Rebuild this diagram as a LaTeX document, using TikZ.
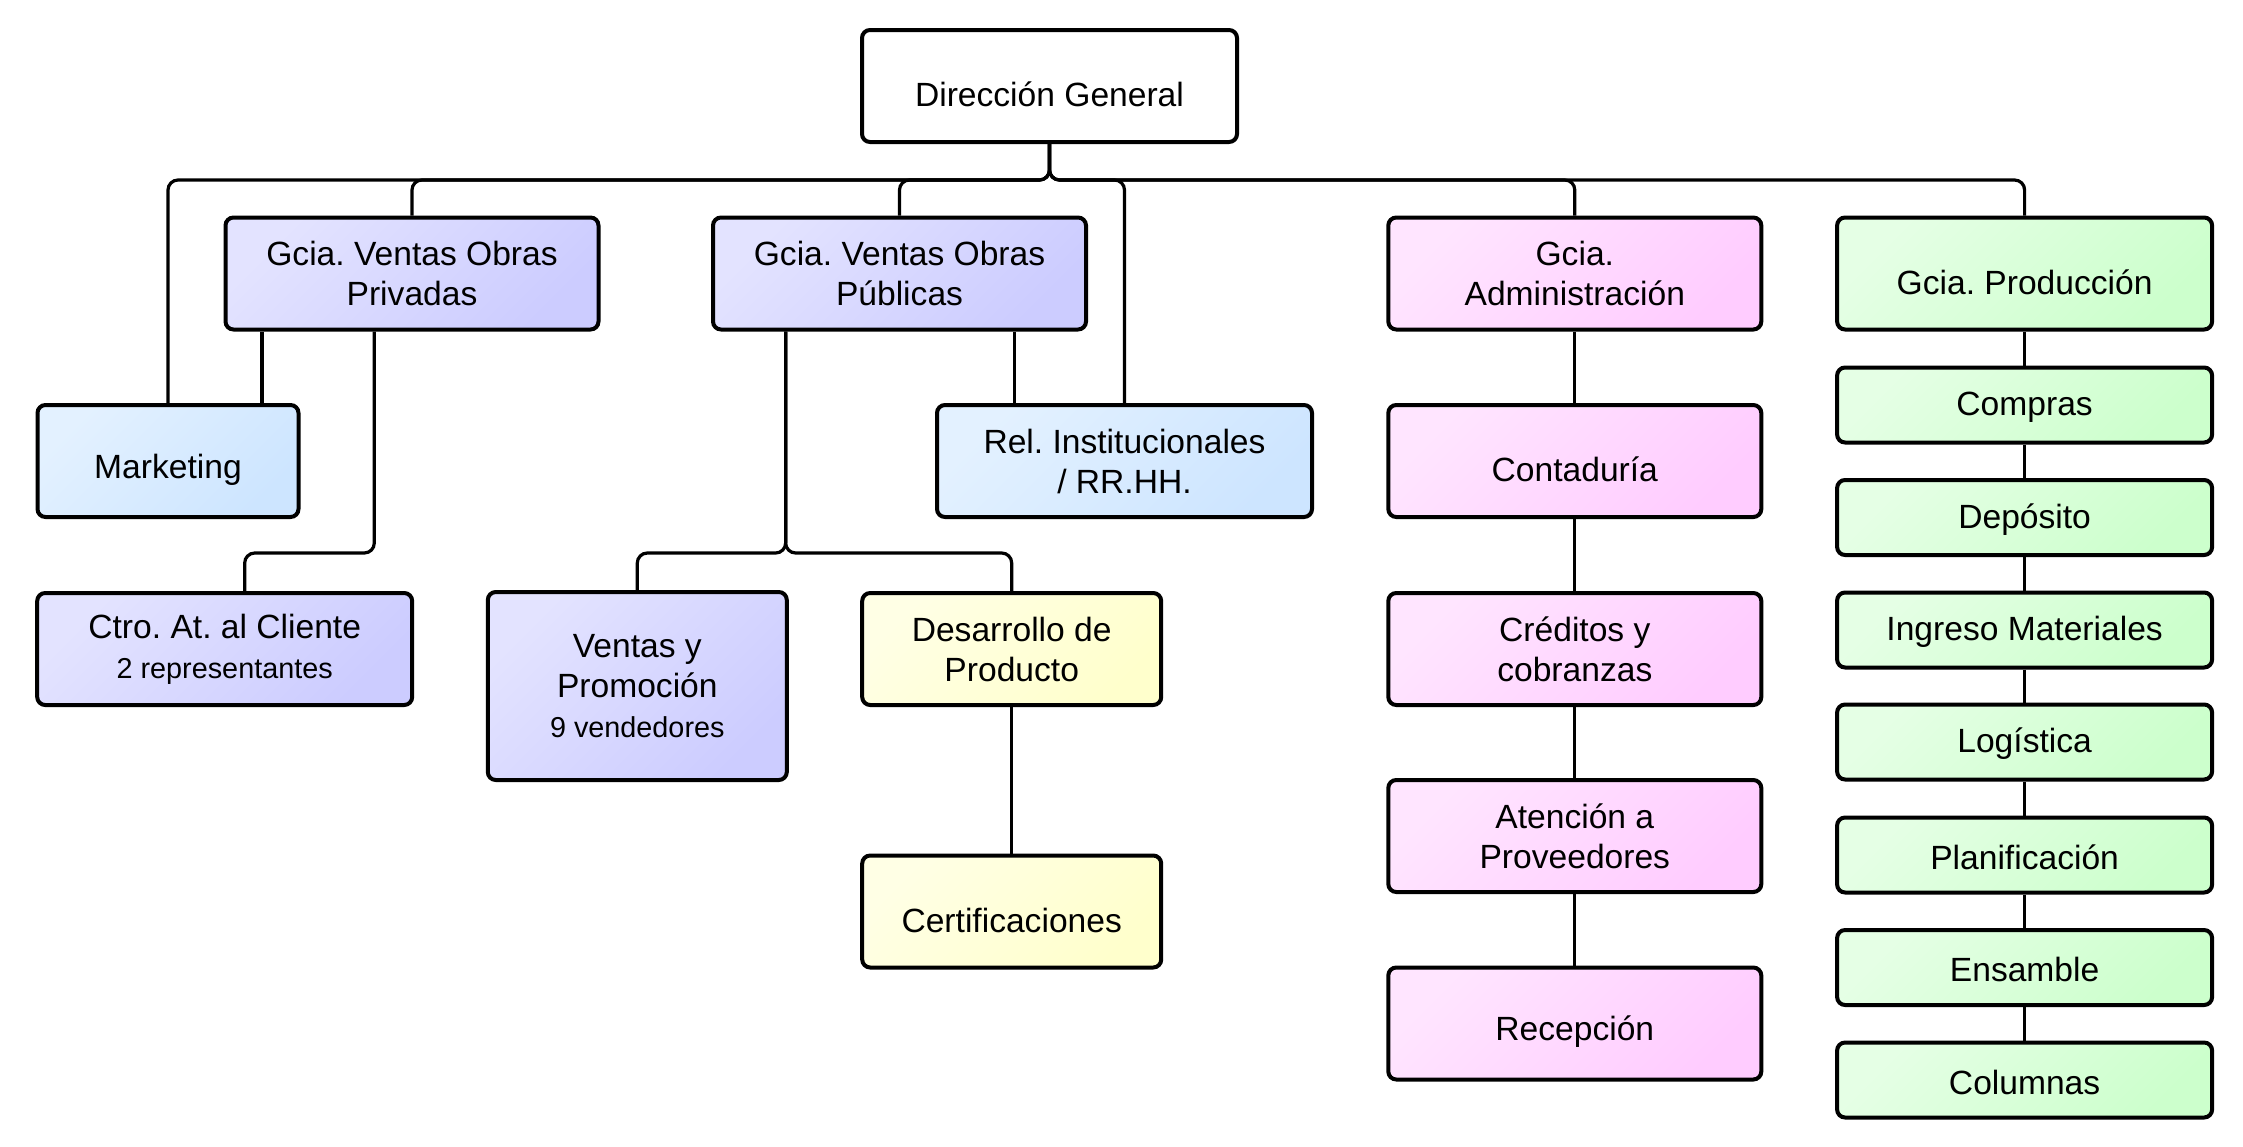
\documentclass[tikz,border=0pt]{standalone}
\usepackage{fontspec}
\setmainfont{Liberation Sans}
\usetikzlibrary{calc}
\frenchspacing
\definecolor{lavA}{HTML}{E3E3FF}\definecolor{lavB}{HTML}{CCCCFF}
\definecolor{bluA}{HTML}{E3F1FF}\definecolor{bluB}{HTML}{CDE5FF}
\definecolor{pnkA}{HTML}{FFE5FF}\definecolor{pnkB}{HTML}{FFCCFF}
\definecolor{yelA}{HTML}{FFFFE5}\definecolor{yelB}{HTML}{FFFFCC}
\definecolor{grnA}{HTML}{E5FFE5}\definecolor{grnB}{HTML}{CCFFCC}
\newcommand{\sm}[1]{{\fontsize{14.4}{20}\selectfont #1}}
\newcommand{\lowtext}[1]{\raisebox{-4.3pt}[\height][\depth]{#1}}
\newcommand{\lowgrn}[1]{\raisebox{-1pt}[\height][\depth]{#1}}
\tikzset{
  box/.style={draw=black, line width=2pt, rounded corners=4pt, align=center,
    inner sep=0pt, font=\fontsize{16.8}{20}\selectfont},
  wbox/.style={box, minimum width=187.5pt, minimum height=56pt},
  mbox/.style={box, minimum width=186.5pt, minimum height=56pt},
  nbox/.style={box, minimum width=149.5pt, minimum height=56pt},
  lav/.style={top color=lavA, bottom color=lavB, shading angle=45},
  blu/.style={top color=bluA, bottom color=bluB, shading angle=45},
  pnk/.style={top color=pnkA, bottom color=pnkB, shading angle=45},
  yel/.style={top color=yelA, bottom color=yelB, shading angle=45},
  grn/.style={top color=grnA, bottom color=grnB, shading angle=45},
  gbox/.style={box, grn, minimum width=187.5pt, minimum height=37.5pt},
  conn/.style={line width=1.6pt, rounded corners=5pt}
}
\begin{document}
\begin{tikzpicture}[x=0.5pt, y=-0.5pt]
\useasboundingbox (0,0) rectangle (2243,1146);
% nodes
\node[wbox, fill=white] (dg) at (1049.5,86) {\lowtext{Dirección General}};
\node[mbox, lav] (gp) at (412,273.5) {Gcia. Ventas Obras\\Privadas};
\node[mbox, lav] (gpu) at (899.5,273.5) {Gcia. Ventas Obras\\Públicas};
\node[mbox, pnk] (ga) at (1574.8,273.5) {Gcia.\\Administración};
\node[wbox, grn] (gpr) at (2024.6,273.5) {\lowtext{Gcia. Producción}};
\node[box, blu, minimum width=130.5pt, minimum height=56pt] (mk) at (168,461) {\lowtext{Marketing}};
\node[wbox, blu] (ri) at (1124.5,461) {Rel. Institucionales\\/ RR.HH.};
\node[mbox, pnk] (cont) at (1574.8,461) {\lowtext{Contaduría}};
\node[wbox, lav] (ctro) at (224.7,649) {Ctro. At. al Cliente\\\sm{2 representantes}};
\node[box, lav, minimum width=149.5pt, minimum height=94pt] (ven) at (637.3,686) {Ventas y\\Promoción\\\sm{9 vendedores}};
\node[nbox, yel] (des) at (1011.7,649) {Desarrollo de\\Producto};
\node[nbox, yel] (cert) at (1011.7,911.5) {\lowtext{Certificaciones}};
\node[mbox, pnk] (cred) at (1574.8,649) {Créditos y\\cobranzas};
\node[mbox, pnk] (aten) at (1574.8,836) {Atención a\\Proveedores};
\node[mbox, pnk] (rec) at (1574.8,1023.5) {\lowtext{Recepción}};
\node[gbox] (g1) at (2024.6,405) {\lowgrn{Compras}};
\node[gbox] (g2) at (2024.6,517.5) {\lowgrn{Depósito}};
\node[gbox] (g3) at (2024.6,630) {\lowgrn{Ingreso Materiales}};
\node[gbox] (g4) at (2024.6,742) {\lowgrn{Logística}};
\node[gbox] (g5) at (2024.6,855) {\lowgrn{Planificación}};
\node[gbox] (g6) at (2024.6,967.5) {\lowgrn{Ensamble}};
\node[gbox] (g7) at (2024.6,1080) {\lowgrn{Columnas}};
% helper coordinates
\coordinate (bus) at (0,180);
\coordinate (bus2) at (0,553);
\path ($(gp.south west)!0.102!(gp.south east)$) coordinate (gpA);
\path ($(gp.south west)!0.40!(gp.south east)$) coordinate (gpB);
\path ($(gpu.south west)!0.198!(gpu.south east)$) coordinate (gpuA);
\path ($(gpu.south west)!0.804!(gpu.south east)$) coordinate (gpuB);
\path ($(ctro.north)+(20,0)$) coordinate (ctroT);
% connectors
\foreach \c in {mk,gp,gpu,ri,ga,gpr}
  \draw[conn] (dg.south) -- (dg.south |- bus) -| (\c.north);
\draw[conn] (gpA) -- (gpA |- mk.north);
\draw[conn] (gpB) -- (gpB |- bus2) -| (ctroT);
\draw[conn] (gpuA) -- (gpuA |- bus2) -| (ven.north);
\draw[conn] (gpuA) -- (gpuA |- bus2) -| (des.north);
\draw[conn] (gpuB) -- (gpuB |- ri.north);
\draw[conn] (des.south) -- (cert.north);
\draw[conn] (ga.south) -- (cont.north);
\draw[conn] (cont.south) -- (cred.north);
\draw[conn] (cred.south) -- (aten.north);
\draw[conn] (aten.south) -- (rec.north);
\draw[conn] (gpr.south) -- (g1.north);
\draw[conn] (g1.south) -- (g2.north);
\draw[conn] (g2.south) -- (g3.north);
\draw[conn] (g3.south) -- (g4.north);
\draw[conn] (g4.south) -- (g5.north);
\draw[conn] (g5.south) -- (g6.north);
\draw[conn] (g6.south) -- (g7.north);
\end{tikzpicture}
\end{document}
